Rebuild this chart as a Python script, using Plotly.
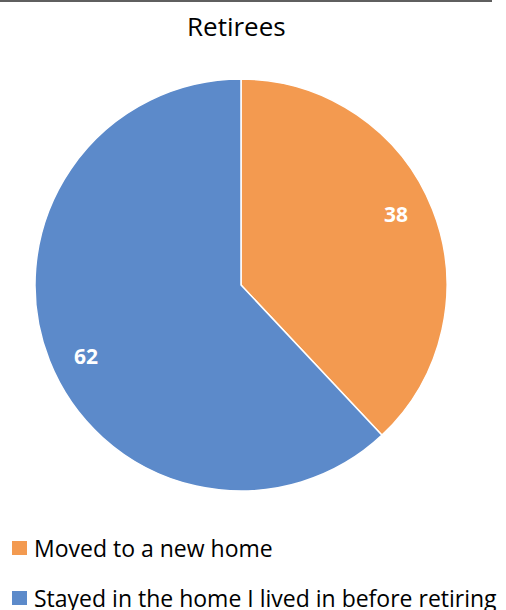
import math
import plotly.graph_objects as go

labels = ['Moved to a new home', 'Stayed in the home I lived in before retiring']
values = [38, 62]
colors = ['#F39A50', '#5C8ACA']

W, H = 506, 610
FONT = 'Open Sans'

# pie box in pixels (centre 241,285, radius 206)
CX, CY, R = 241, 285, 206

fig = go.Figure(go.Pie(
    labels=labels,
    values=values,
    sort=False,
    direction='clockwise',
    rotation=0,
    marker=dict(colors=colors, line=dict(color='white', width=1.5)),
    textinfo='none',
    domain=dict(x=[(CX - R) / W, (CX + R) / W], y=[1 - (CY + R) / H, 1 - (CY - R) / H]),
    showlegend=False,
    hoverinfo='label+value',
))

annotations = [dict(
    text='Retirees', x=236 / W, y=1 - 26 / H, xref='paper', yref='paper',
    xanchor='center', yanchor='middle', showarrow=False,
    font=dict(family=FONT, size=26, color='#000000')
)]

# value labels, placed out toward the rim like the original
total = sum(values)
start = 0
for v in values:
    mid = (start + v / 2) / total * 2 * math.pi - math.radians(3)
    start += v
    px = CX + 0.825 * R * math.sin(mid)
    py = CY - 0.825 * R * math.cos(mid)
    annotations.append(dict(
        text='<b>%d</b>' % v, x=px / W, y=1 - py / H, xref='paper', yref='paper',
        xanchor='center', yanchor='middle', showarrow=False,
        font=dict(family=FONT, size=21, color='white')
    ))

shapes = [dict(
    type='line', xref='paper', yref='paper',
    x0=0, x1=492 / W, y0=1 - 1 / H, y1=1 - 1 / H,
    line=dict(color='#5f5f5f', width=2)
)]

# legend drawn by hand so the gap between rows matches
row_y = [548, 598]
for lab, col, yy in zip(labels, colors, row_y):
    shapes.append(dict(
        type='rect', xref='paper', yref='paper',
        x0=12 / W, x1=27 / W, y0=1 - (yy + 7) / H, y1=1 - (yy - 7) / H,
        fillcolor=col, line=dict(width=0)
    ))
    annotations.append(dict(
        text=lab, x=32 / W, y=1 - yy / H, xref='paper', yref='paper',
        xanchor='left', yanchor='middle', showarrow=False,
        font=dict(family=FONT, size=23, color='#000000')
    ))

fig.update_layout(
    width=W, height=H,
    margin=dict(l=0, r=0, t=0, b=0),
    paper_bgcolor='white',
    plot_bgcolor='white',
    annotations=annotations,
    shapes=shapes,
)

fig.write_html('out.html', config={'displayModeBar': False},
               post_script="document.body.style.margin='0';")
